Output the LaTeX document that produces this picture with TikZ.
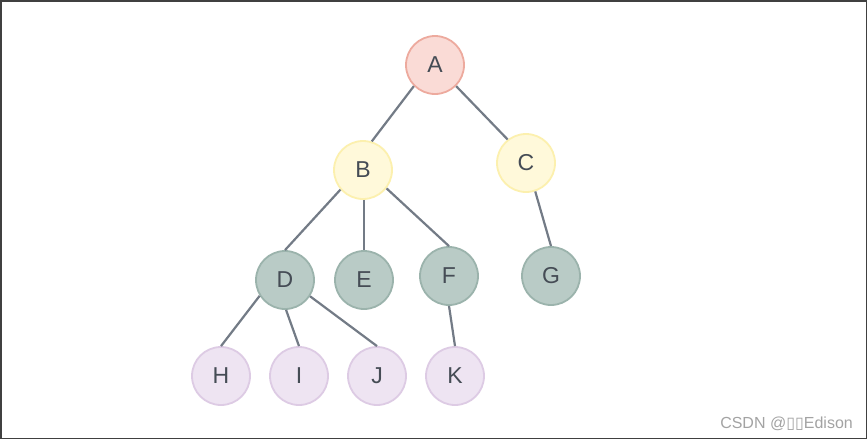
\documentclass[tikz,border=0pt]{standalone}
\usepackage{fontspec}
\setmainfont{Liberation Sans}
\newfontfamily\symfont{DejaVu Sans}
\definecolor{txt}{HTML}{454C55}
\definecolor{edge}{HTML}{737B86}
\definecolor{redfill}{HTML}{FADBD6}
\definecolor{redline}{HTML}{EDAA9E}
\definecolor{yelfill}{HTML}{FFF9DA}
\definecolor{yelline}{HTML}{FCF0AE}
\definecolor{tealfill}{HTML}{B9CBC6}
\definecolor{tealline}{HTML}{9BB3AC}
\definecolor{purfill}{HTML}{EEE4F2}
\definecolor{purline}{HTML}{DDCBE4}
\definecolor{wm}{HTML}{A3A3A3}
\definecolor{frame}{HTML}{404040}
\tikzset{
  tnode/.style={circle, minimum size=58pt, inner sep=0pt, line width=1.8pt,
    text=txt, font=\fontsize{23}{23}\selectfont},
  rednode/.style={tnode, draw=redline, fill=redfill},
  yelnode/.style={tnode, draw=yelline, fill=yelfill},
  tealnode/.style={tnode, draw=tealline, fill=tealfill},
  purnode/.style={tnode, draw=purline, fill=purfill},
  link/.style={draw=edge, line width=2.2pt},
}
\begin{document}
\begin{tikzpicture}[x=1pt,y=-1pt]
\useasboundingbox (0,0) rectangle (867,439);
\fill[white] (0,0) rectangle (867,439);
\draw[frame, line width=1.5pt] (0.75,0.75) rectangle (866.25,438.25);
% nodes
\node[rednode] (A) at (435,65) {A};
\node[yelnode] (B) at (363,170) {B};
\node[yelnode] (C) at (526,163) {C};
\node[tealnode] (D) at (285,280) {D};
\node[tealnode] (E) at (364,280) {E};
\node[tealnode] (F) at (449,276) {F};
\node[tealnode] (G) at (551,276) {G};
\node[purnode] (H) at (221,376) {H};
\node[purnode] (I) at (299,376) {I};
\node[purnode] (J) at (377,376) {J};
\node[purnode] (K) at (455,376) {K};
% edges
\path[link] (A.225) -- (B.73);
\path[link] (A.-45) -- (C.128);
\path[link] (B.221) -- (D.north);
\path[link] (B.south -| E.north) -- (E.north);
\path[link] (B.-38) -- (F.north);
\path[link] (C.-72) -- (G.north);
\path[link] (D.212) -- (H.north);
\path[link] (D.-88) -- (I.north);
\path[link] (D.-33) -- (J.north);
\path[link] (F.south) -- (K.north);
% watermark
\node[anchor=base east, text=wm, font=\fontsize{16}{16}\selectfont, inner sep=0pt] (wmark) at (853,428) {CSDN @{\symfont\char"25AF\char"25AF}Edison};
\end{tikzpicture}
\end{document}
